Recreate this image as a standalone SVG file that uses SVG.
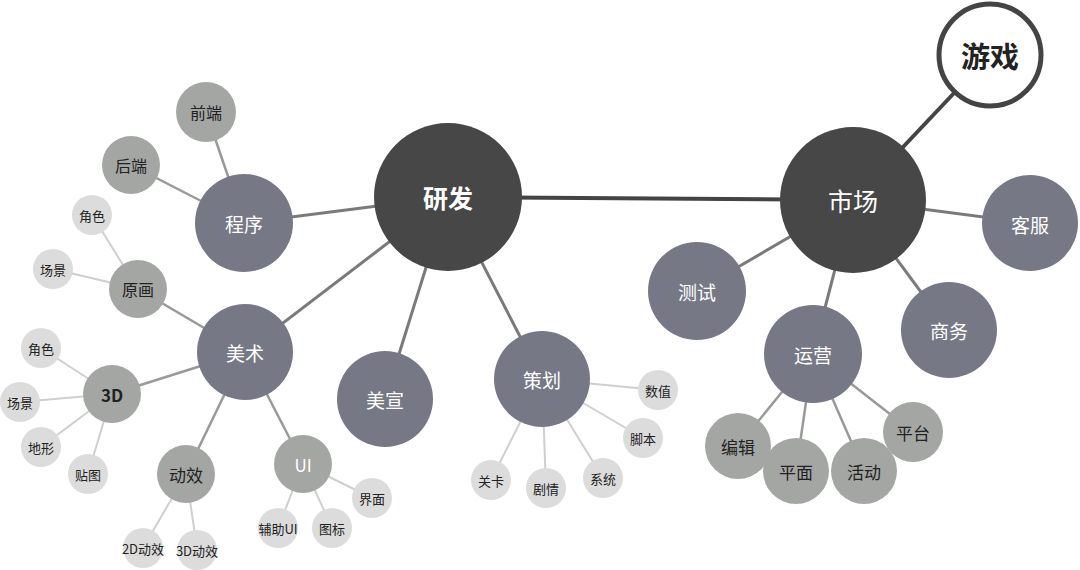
<svg xmlns="http://www.w3.org/2000/svg" width="1080" height="570" viewBox="0 0 1080 570">
<style>
text{font-family:"Noto Sans CJK SC","Liberation Sans",sans-serif;text-anchor:middle;dominant-baseline:central}
.d{fill:#474747}.m{fill:#767985}.g{fill:#a4a6a4}.l{fill:#dcdcdc}
.wt{fill:#fff}.bt{fill:#222}
.c1{stroke:#444;stroke-width:4}.c2{stroke:#7a7a7a;stroke-width:3}.c3{stroke:#999;stroke-width:2.5}.c4{stroke:#cfcfcf;stroke-width:2}
</style>
<rect width="1080" height="570" fill="#fff"/>
<g id="connectors">
<line class="c1" x1="448" y1="197" x2="853" y2="200"/>
<line class="c1" x1="853" y1="200" x2="990" y2="55"/>
<line class="c2" x1="853" y1="200" x2="1030" y2="223"/>
<line class="c2" x1="853" y1="200" x2="697" y2="291"/>
<line class="c2" x1="853" y1="200" x2="813" y2="354"/>
<line class="c2" x1="853" y1="200" x2="949" y2="330"/>
<line class="c3" x1="813" y1="354" x2="738" y2="446"/>
<line class="c3" x1="813" y1="354" x2="796" y2="471"/>
<line class="c3" x1="813" y1="354" x2="864" y2="471"/>
<line class="c3" x1="813" y1="354" x2="913" y2="432"/>
<line class="c2" x1="448" y1="197" x2="244" y2="223"/>
<line class="c2" x1="448" y1="197" x2="245" y2="352"/>
<line class="c2" x1="448" y1="197" x2="385" y2="399"/>
<line class="c2" x1="448" y1="197" x2="542" y2="379"/>
<line class="c3" x1="244" y1="223" x2="206" y2="112"/>
<line class="c3" x1="244" y1="223" x2="131" y2="165"/>
<line class="c3" x1="245" y1="352" x2="138" y2="289"/>
<line class="c3" x1="245" y1="352" x2="112" y2="394"/>
<line class="c3" x1="245" y1="352" x2="186" y2="474"/>
<line class="c3" x1="245" y1="352" x2="303" y2="464"/>
<line class="c4" x1="138" y1="289" x2="92" y2="215"/>
<line class="c4" x1="138" y1="289" x2="53" y2="269"/>
<line class="c4" x1="112" y1="394" x2="41" y2="348"/>
<line class="c4" x1="112" y1="394" x2="20" y2="402"/>
<line class="c4" x1="112" y1="394" x2="41" y2="447"/>
<line class="c4" x1="112" y1="394" x2="88" y2="474"/>
<line class="c4" x1="186" y1="474" x2="143" y2="548"/>
<line class="c4" x1="186" y1="474" x2="197" y2="548"/>
<line class="c4" x1="303" y1="464" x2="278" y2="528"/>
<line class="c4" x1="303" y1="464" x2="332" y2="528"/>
<line class="c4" x1="303" y1="464" x2="372" y2="498"/>
<line class="c4" x1="542" y1="379" x2="658" y2="390"/>
<line class="c4" x1="542" y1="379" x2="643" y2="438"/>
<line class="c4" x1="542" y1="379" x2="603" y2="478"/>
<line class="c4" x1="542" y1="379" x2="546" y2="488"/>
<line class="c4" x1="542" y1="379" x2="491" y2="480"/>
</g>
<g id="youxi"><circle cx="990" cy="55" r="51" fill="#fff" stroke="#444" stroke-width="5"/><text class="bt" x="990" y="55" font-size="29" font-weight="bold">游戏</text></g>
<g id="shichang"><circle class="d" cx="853" cy="200" r="73"/><text class="wt" x="853" y="200" font-size="25">市场</text></g>
<g id="yanfa"><circle class="d" cx="448" cy="197" r="74"/><text class="wt" x="448" y="197" font-size="25" font-weight="bold">研发</text></g>
<g id="kefu"><circle class="m" cx="1030" cy="223" r="48"/><text class="wt" x="1030" y="224" font-size="19">客服</text></g>
<g id="ceshi"><circle class="m" cx="697" cy="291" r="49"/><text class="wt" x="697" y="291" font-size="19">测试</text></g>
<g id="yunying"><circle class="m" cx="813" cy="354" r="49"/><text class="wt" x="813" y="354" font-size="19">运营</text></g>
<g id="shangwu"><circle class="m" cx="949" cy="330" r="48"/><text class="wt" x="949" y="330" font-size="19">商务</text></g>
<g id="bianji"><circle class="g" cx="738" cy="446" r="33"/><text class="bt" x="738" y="446" font-size="17">编辑</text></g>
<g id="pingmian"><circle class="g" cx="796" cy="471" r="33"/><text class="bt" x="796" y="471" font-size="17">平面</text></g>
<g id="huodong"><circle class="g" cx="864" cy="471" r="33"/><text class="bt" x="864" y="471" font-size="17">活动</text></g>
<g id="pingtai"><circle class="g" cx="913" cy="432" r="30"/><text class="bt" x="913" y="432" font-size="17">平台</text></g>
<g id="chengxu"><circle class="m" cx="244" cy="223" r="49"/><text class="wt" x="244" y="223" font-size="19">程序</text></g>
<g id="qianduan"><circle class="g" cx="206" cy="112" r="30"/><text class="bt" x="206" y="112" font-size="16">前端</text></g>
<g id="houduan"><circle class="g" cx="131" cy="165" r="29"/><text class="bt" x="131" y="165" font-size="16">后端</text></g>
<g id="meishu"><circle class="m" cx="245" cy="352" r="48"/><text class="wt" x="245" y="352" font-size="19">美术</text></g>
<g id="yuanhua"><circle class="g" cx="138" cy="289" r="29"/><text class="bt" x="138" y="289" font-size="16">原画</text></g>
<g id="jiaose1"><circle class="l" cx="92" cy="215" r="20"/><text class="bt" x="92" y="215" font-size="13">角色</text></g>
<g id="changjing1"><circle class="l" cx="53" cy="269" r="20"/><text class="bt" x="53" y="269" font-size="13">场景</text></g>
<g id="d3"><circle class="g" cx="112" cy="394" r="29"/><text class="bt" x="112" y="394" font-size="17" font-weight="bold">3D</text></g>
<g id="jiaose2"><circle class="l" cx="41" cy="348" r="20"/><text class="bt" x="41" y="348" font-size="13">角色</text></g>
<g id="changjing2"><circle class="l" cx="20" cy="402" r="20"/><text class="bt" x="20" y="402" font-size="13">场景</text></g>
<g id="dixing"><circle class="l" cx="41" cy="447" r="20"/><text class="bt" x="41" y="447" font-size="13">地形</text></g>
<g id="tietu"><circle class="l" cx="88" cy="474" r="20"/><text class="bt" x="88" y="474" font-size="13">贴图</text></g>
<g id="dongxiao"><circle class="g" cx="186" cy="474" r="29"/><text class="bt" x="186" y="474" font-size="17">动效</text></g>
<g id="dx2d"><circle class="l" cx="143" cy="548" r="20"/><text class="bt" x="143" y="548" font-size="13">2D动效</text></g>
<g id="dx3d"><circle class="l" cx="197" cy="550" r="20"/><text class="bt" x="197" y="550" font-size="13">3D动效</text></g>
<g id="ui"><circle class="g" cx="303" cy="464" r="29"/><text class="wt" x="303" y="464" font-size="17">UI</text></g>
<g id="fuzhu"><circle class="l" cx="278" cy="528" r="20"/><text class="bt" x="278" y="528" font-size="13">辅助UI</text></g>
<g id="tubiao"><circle class="l" cx="332" cy="528" r="20"/><text class="bt" x="332" y="528" font-size="13">图标</text></g>
<g id="jiemian"><circle class="l" cx="372" cy="498" r="20"/><text class="bt" x="372" y="498" font-size="13">界面</text></g>
<g id="meixuan"><circle class="m" cx="385" cy="399" r="48"/><text class="wt" x="385" y="399" font-size="19">美宣</text></g>
<g id="cehua"><circle class="m" cx="542" cy="379" r="48"/><text class="wt" x="542" y="379" font-size="19">策划</text></g>
<g id="shuzhi"><circle class="l" cx="658" cy="390" r="20"/><text class="bt" x="658" y="390" font-size="13">数值</text></g>
<g id="jiaoben"><circle class="l" cx="643" cy="438" r="20"/><text class="bt" x="643" y="438" font-size="13">脚本</text></g>
<g id="xitong"><circle class="l" cx="603" cy="478" r="20"/><text class="bt" x="603" y="478" font-size="13">系统</text></g>
<g id="juqing"><circle class="l" cx="546" cy="488" r="20"/><text class="bt" x="546" y="488" font-size="13">剧情</text></g>
<g id="guanka"><circle class="l" cx="491" cy="480" r="20"/><text class="bt" x="491" y="480" font-size="13">关卡</text></g>
</svg>
